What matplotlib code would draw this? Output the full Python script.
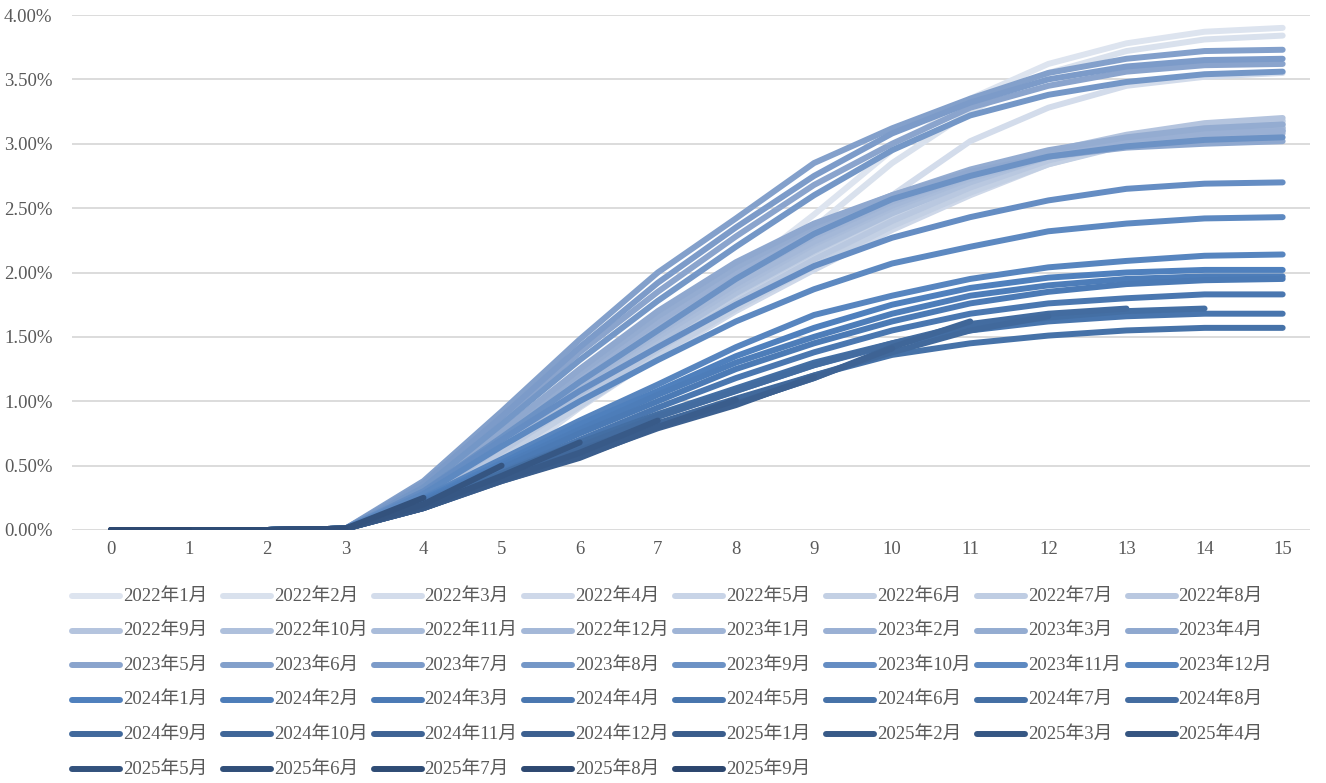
import numpy as np
import matplotlib.pyplot as plt
from matplotlib.colors import LinearSegmentedColormap
from matplotlib.lines import Line2D
from matplotlib.ticker import FuncFormatter

# Cumulative rate (%) by months since origination, one list per vintage
months = list(range(16))

labels_2022 = ['2022年%d月' % m for m in range(1, 13)]
rates_2022 = [
    [0, 0, 0, 0.01, 0.22, 0.62, 1.05, 1.50, 1.98, 2.45, 2.95, 3.35, 3.62, 3.78, 3.87, 3.90],
    [0, 0, 0, 0.01, 0.20, 0.58, 1.00, 1.45, 1.90, 2.35, 2.85, 3.25, 3.55, 3.72, 3.81, 3.84],
    [0, 0, 0, 0.01, 0.18, 0.50, 0.95, 1.35, 1.75, 2.15, 2.60, 3.02, 3.28, 3.45, 3.52, 3.55],
    [0, 0, 0, 0.01, 0.21, 0.58, 0.97, 1.34, 1.70, 2.02, 2.33, 2.60, 2.84, 3.00, 3.09, 3.12],
    [0, 0, 0, 0.01, 0.23, 0.62, 1.02, 1.42, 1.80, 2.12, 2.43, 2.70, 2.90, 3.05, 3.14, 3.17],
    [0, 0, 0, 0.01, 0.21, 0.57, 0.96, 1.36, 1.72, 2.05, 2.36, 2.62, 2.84, 2.99, 3.07, 3.10],
    [0, 0, 0, 0.01, 0.24, 0.64, 1.05, 1.45, 1.83, 2.16, 2.46, 2.72, 2.92, 3.06, 3.15, 3.18],
    [0, 0, 0, 0.01, 0.23, 0.61, 1.01, 1.40, 1.77, 2.10, 2.40, 2.66, 2.87, 3.01, 3.10, 3.13],
    [0, 0, 0, 0.01, 0.25, 0.66, 1.08, 1.48, 1.86, 2.20, 2.50, 2.74, 2.94, 3.07, 3.16, 3.20],
    [0, 0, 0, 0.01, 0.24, 0.65, 1.06, 1.46, 1.84, 2.17, 2.46, 2.70, 2.90, 3.03, 3.12, 3.15],
    [0, 0, 0, 0.01, 0.25, 0.67, 1.10, 1.50, 1.88, 2.22, 2.50, 2.73, 2.90, 3.02, 3.08, 3.10],
    [0, 0, 0, 0.01, 0.26, 0.69, 1.12, 1.53, 1.91, 2.24, 2.52, 2.75, 2.92, 3.04, 3.10, 3.12],
]

labels_2023 = ['2023年%d月' % m for m in range(1, 13)]
rates_2023 = [
    [0, 0, 0, 0.01, 0.27, 0.71, 1.16, 1.58, 1.96, 2.28, 2.55, 2.76, 2.92, 3.02, 3.06, 3.08],
    [0, 0, 0, 0.01, 0.28, 0.73, 1.20, 1.62, 2.00, 2.32, 2.58, 2.78, 2.93, 3.03, 3.08, 3.10],
    [0, 0, 0, 0.01, 0.29, 0.75, 1.22, 1.66, 2.04, 2.36, 2.60, 2.80, 2.95, 3.05, 3.12, 3.15],
    [0, 0, 0, 0.01, 0.30, 0.77, 1.25, 1.70, 2.08, 2.38, 2.60, 2.78, 2.90, 2.97, 3.00, 3.02],
    [0, 0, 0, 0.01, 0.34, 0.85, 1.38, 1.85, 2.28, 2.68, 3.00, 3.28, 3.45, 3.56, 3.61, 3.62],
    [0, 0, 0, 0.01, 0.38, 0.92, 1.48, 2.00, 2.42, 2.85, 3.12, 3.35, 3.55, 3.66, 3.72, 3.73],
    [0, 0, 0, 0.01, 0.36, 0.88, 1.42, 1.92, 2.35, 2.75, 3.08, 3.32, 3.50, 3.60, 3.65, 3.66],
    [0, 0, 0, 0.01, 0.33, 0.82, 1.32, 1.78, 2.20, 2.60, 2.95, 3.22, 3.38, 3.48, 3.54, 3.56],
    [0, 0, 0, 0.01, 0.30, 0.72, 1.15, 1.55, 1.95, 2.30, 2.57, 2.75, 2.90, 2.98, 3.03, 3.05],
    [0, 0, 0, 0.01, 0.30, 0.70, 1.08, 1.42, 1.75, 2.05, 2.27, 2.43, 2.56, 2.65, 2.69, 2.70],
    [0, 0, 0, 0.01, 0.28, 0.65, 1.00, 1.32, 1.62, 1.87, 2.07, 2.20, 2.32, 2.38, 2.42, 2.43],
    [0, 0, 0, 0.01, 0.25, 0.55, 0.85, 1.13, 1.42, 1.67, 1.82, 1.95, 2.04, 2.09, 2.13, 2.14],
]

labels_2024 = ['2024年%d月' % m for m in range(1, 13)]
rates_2024 = [
    [0, 0, 0, 0.01, 0.24, 0.52, 0.82, 1.08, 1.35, 1.57, 1.75, 1.88, 1.96, 2.00, 2.02, 2.02],
    [0, 0, 0, 0.01, 0.23, 0.50, 0.78, 1.05, 1.30, 1.50, 1.68, 1.82, 1.90, 1.95, 1.97, 1.97],
    [0, 0, 0, 0.01, 0.22, 0.48, 0.75, 1.00, 1.25, 1.45, 1.62, 1.76, 1.85, 1.91, 1.94, 1.95],
    [0, 0, 0, 0.01, 0.21, 0.45, 0.70, 0.95, 1.18, 1.38, 1.55, 1.68, 1.76, 1.80, 1.83, 1.83],
    [0, 0, 0, 0.01, 0.20, 0.43, 0.66, 0.88, 1.08, 1.28, 1.44, 1.55, 1.62, 1.66, 1.68, 1.68],
    [0, 0, 0, 0.01, 0.18, 0.40, 0.60, 0.82, 1.00, 1.20, 1.36, 1.45, 1.51, 1.55, 1.57, 1.57],
    [0, 0, 0, 0.01, 0.20, 0.44, 0.68, 0.90, 1.10, 1.30, 1.45, 1.58, 1.65, 1.70, 1.72],
    [0, 0, 0, 0.01, 0.19, 0.42, 0.65, 0.88, 1.08, 1.28, 1.45, 1.60, 1.68, 1.72],
    [0, 0, 0, 0.01, 0.18, 0.40, 0.62, 0.83, 1.02, 1.20, 1.38, 1.55, 1.66],
    [0, 0, 0, 0.01, 0.18, 0.40, 0.60, 0.80, 0.98, 1.18, 1.42, 1.62],
    [0, 0, 0, 0.01, 0.17, 0.39, 0.58, 0.80, 0.98, 1.18, 1.41],
    [0, 0, 0, 0.01, 0.17, 0.38, 0.57, 0.79, 0.97, 1.19],
]

labels_2025 = ['2025年%d月' % m for m in range(1, 10)]
rates_2025 = [
    [0, 0, 0, 0.01, 0.17, 0.38, 0.56, 0.80, 1.01],
    [0, 0, 0, 0.01, 0.17, 0.39, 0.60, 0.85],
    [0, 0, 0, 0.01, 0.18, 0.42, 0.68],
    [0, 0, 0, 0.01, 0.20, 0.50],
    [0, 0, 0, 0.01, 0.25],
    [0, 0, 0, 0.01],
    [0, 0, 0],
    [0, 0],
    [0],
]

labels = labels_2022 + labels_2023 + labels_2024 + labels_2025
rates = rates_2022 + rates_2023 + rates_2024 + rates_2025
n = len(labels)

# light-to-dark blue ramp across vintages
ramp = LinearSegmentedColormap.from_list('vintage', [
    (0.0, '#dde4ef'), (16 / 44, '#8aa4cd'), (24 / 44, '#4f80bd'),
    (32 / 44, '#41699c'), (1.0, '#2c466e')])
colors = [ramp(i / (n - 1)) for i in range(n)]

text_color = '#595959'
font = ['Liberation Serif', 'Noto Sans CJK SC']
fs = 13.5

fig = plt.figure(figsize=(13.26, 7.83), dpi=100)
ax = fig.add_axes([72 / 1326, 1 - 530 / 783, (1310 - 72) / 1326, 515 / 783])

lw = 4.3
for lab, vals, c in zip(labels, rates, colors):
    ax.plot(months[:len(vals)], vals, color=c, lw=lw, label=lab,
            solid_capstyle='round', solid_joinstyle='round', zorder=3)

ax.set_xlim(-0.5, 15.35)
ax.set_ylim(0, 4.0)
ax.set_xticks(months)
ax.set_yticks(np.arange(0, 4.01, 0.5))
ax.yaxis.set_major_formatter(FuncFormatter(lambda v, p: '%.2f%%' % v))
ax.grid(axis='y', color='#d9d9d9', lw=1.3)
ax.set_axisbelow(True)
for s in ax.spines.values():
    s.set_visible(False)
ax.tick_params(length=0, colors=text_color, labelsize=fs)
ax.tick_params(axis='y', pad=14)
ax.tick_params(axis='x', pad=8)
for t in ax.get_xticklabels() + ax.get_yticklabels():
    t.set_family(font)

# legend laid out on a fixed grid, 8 entries per row
W, H = 1326, 783
for i, (lab, c) in enumerate(zip(labels, colors)):
    r, col = divmod(i, 8)
    x0 = 72 + 150.8 * col
    y0 = 596 + 34.6 * r
    fig.add_artist(Line2D([x0 / W, (x0 + 48) / W], [1 - y0 / H, 1 - y0 / H],
                          color=c, lw=lw, solid_capstyle='round'))
    fig.text((x0 + 51) / W, 1 - y0 / H, lab, color=text_color, fontsize=fs,
             family=font, va='center', ha='left')

fig.savefig('out.png', dpi=100)
